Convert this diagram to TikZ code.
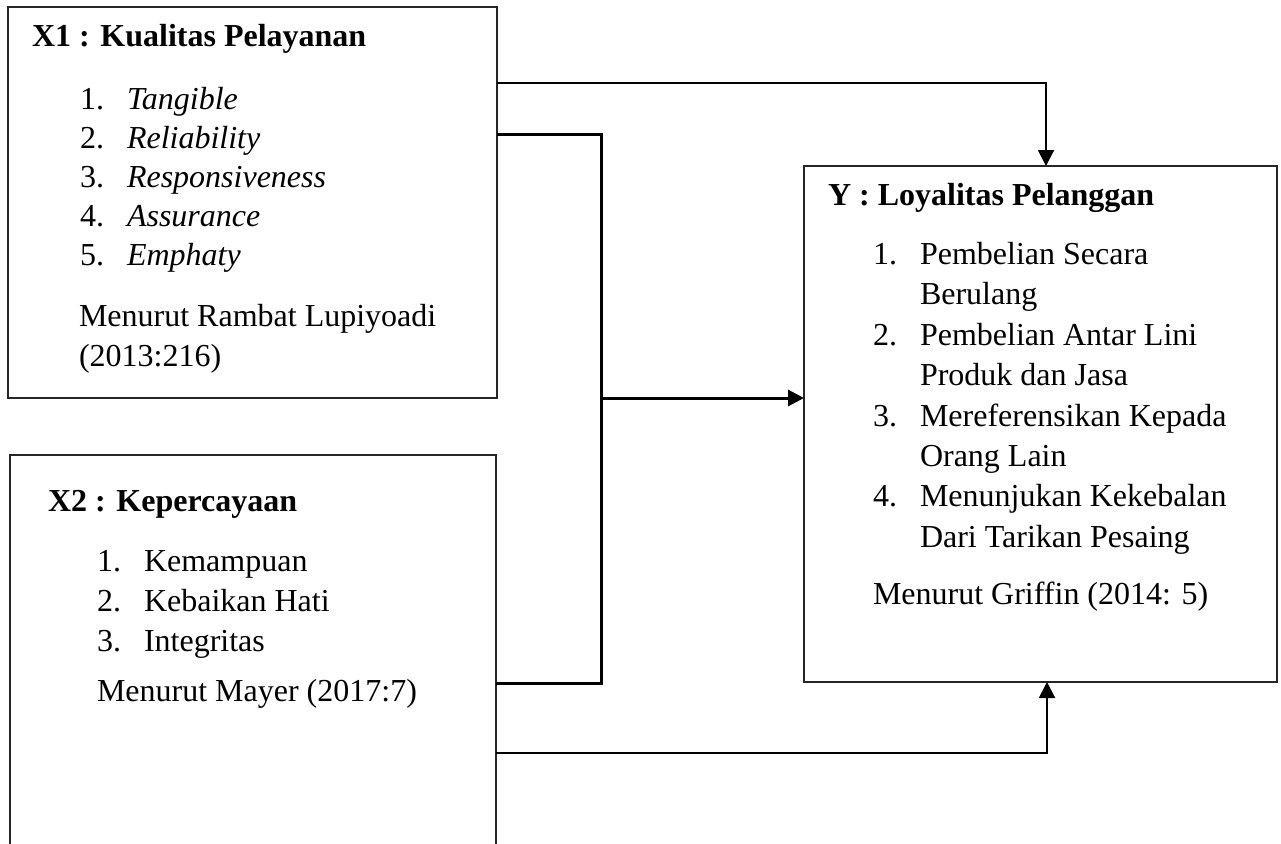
\documentclass[tikz,border=0pt]{standalone}
\usepackage{fontspec}
\setmainfont{Liberation Serif}
\usetikzlibrary{arrows.meta}
\begin{document}
\begin{tikzpicture}[x=1pt,y=-1pt,
  box/.style={draw=black!85, line width=1.3pt, inner sep=0pt, outer sep=0pt, anchor=north west},
  txt/.style={anchor=base west, inner sep=0pt, outer sep=0pt, font=\fontsize{32}{38}\selectfont},
  ttl/.style={anchor=base west, inner sep=0pt, outer sep=0pt, font=\fontsize{32}{38}\selectfont\bfseries},
  itm/.style={anchor=base west, inner sep=0pt, outer sep=0pt, font=\fontsize{32}{38}\selectfont\itshape},
  lightline/.style={line width=2pt, line join=miter},
  heavyline/.style={line width=3pt, line join=miter},
  arr/.style={-{Triangle[length=16pt,width=16pt]}}
]
\path[use as bounding box] (0,0) rectangle (1281,843);

% boxes
\node[box, minimum width=489pt, minimum height=391pt] (x1) at (8,7) {};
\node[box, line width=1.7pt, minimum width=486pt, minimum height=450pt] (x2) at (10,455) {};
\node[box, minimum width=473pt, minimum height=516pt] (y) at (804,166) {};

% X1 texts
\node[ttl] (x1t) at (32,46.7) {X1 : Kualitas Pelayanan};
\node[txt] (x1n1) at (80,109) {1.};
\node[itm] (x1i1) at (127,109) {Tangible};
\node[txt] (x1n2) at (80,148) {2.};
\node[itm] (x1i2) at (127,148) {Reliability};
\node[txt] (x1n3) at (80,187) {3.};
\node[itm] (x1i3) at (127,187) {Responsiveness};
\node[txt] (x1n4) at (80,226) {4.};
\node[itm] (x1i4) at (127,226) {Assurance};
\node[txt] (x1n5) at (80,265) {5.};
\node[itm] (x1i5) at (127,265) {Emphaty};
\node[txt] (x1s1) at (79,326) {Menurut Rambat Lupiyoadi};
\node[txt] (x1s2) at (79,366) {(2013:216)};

% X2 texts
\node[ttl] (x2t) at (48,511.7) {X2 : Kepercayaan};
\node[txt] (x2n1) at (97,571.7) {1.};
\node[txt] (x2i1) at (144,571.7) {Kemampuan};
\node[txt] (x2n2) at (97,611.7) {2.};
\node[txt] (x2i2) at (144,611.7) {Kebaikan Hati};
\node[txt] (x2n3) at (97,651.7) {3.};
\node[txt] (x2i3) at (144,651.7) {Integritas};
\node[txt] (x2s) at (97,701.7) {Menurut Mayer (2017:7)};

% Y texts
\node[ttl] (yt) at (828,205) {Y : Loyalitas Pelanggan};
\node[txt] (yn1) at (873,264) {1.};
\node[txt] (yi1a) at (920,264) {Pembelian Secara};
\node[txt] (yi1b) at (920,304.5) {Berulang};
\node[txt] (yn2) at (873,345) {2.};
\node[txt] (yi2a) at (920,345) {Pembelian Antar Lini};
\node[txt] (yi2b) at (920,385.5) {Produk dan Jasa};
\node[txt] (yn3) at (873,426) {3.};
\node[txt] (yi3a) at (920,426) {Mereferensikan Kepada};
\node[txt] (yi3b) at (920,466) {Orang Lain};
\node[txt] (yn4) at (873,506.5) {4.};
\node[txt] (yi4a) at (920,506.5) {Menunjukan Kekebalan};
\node[txt] (yi4b) at (920,547) {Dari Tarikan Pesaing};
\node[txt] (ys) at (873,604) {Menurut Griffin (2014: 5)};

% connectors
\coordinate (c1) at (1046,83);
\draw[lightline, arr] (x1.east |- c1) -- (c1) -- (c1 |- y.north);

\coordinate (b1) at (601,134);
\coordinate (b2) at (601,683);
\coordinate (bm) at (601,398);
\draw[heavyline] (x1.east |- b1) -- (b1) -- (b2) -- (x2.east |- b2);
\draw[heavyline, arr] (bm) -- (y.west |- bm);

\coordinate (c4) at (1047,753);
\draw[lightline, arr] (x2.east |- c4) -- (c4) -- (c4 |- y.south);
\end{tikzpicture}
\end{document}
